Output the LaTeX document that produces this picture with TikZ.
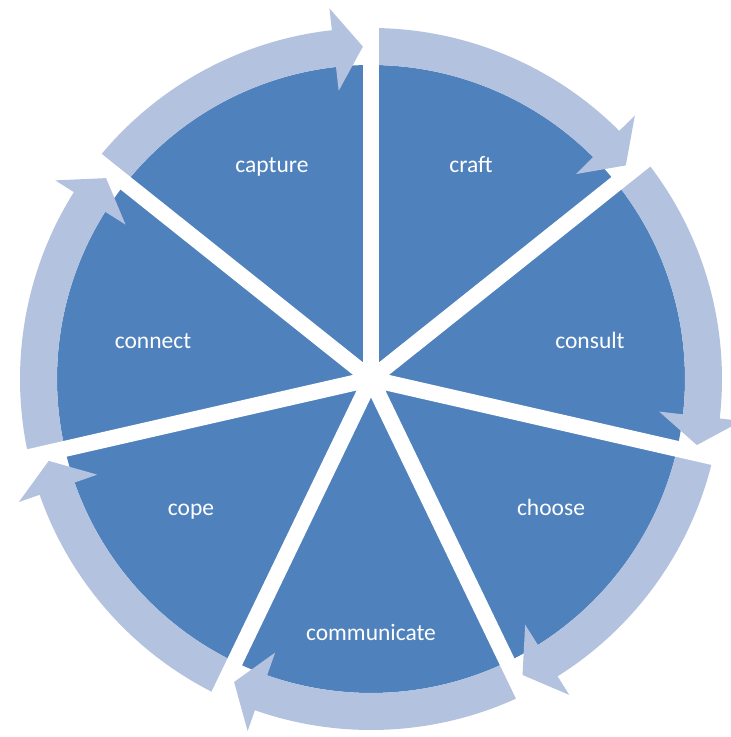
\documentclass[tikz,border=0pt]{standalone}
\usepackage{fontspec}
\setmainfont{Carlito}
\usepackage{xcolor}
\usepackage{tikz}

\definecolor{segblue}{HTML}{4F81BD}
\definecolor{ringblue}{HTML}{B3C2DE}

\begin{document}
\begin{tikzpicture}[x=1pt,y=1pt]
            \tikzset{seg/.style={fill=segblue},
                     ring/.style={fill=ringblue},
                     spoke/.style={draw=white,line width=16pt},
                     lab/.style={text=white,anchor=base,font=\fontsize{23.5}{28}\selectfont}}
            \useasboundingbox (-371,-358) rectangle (360,379);

            % pie slices
            \foreach \k in {0,...,6} {
                \pgfmathsetmacro{\angA}{90-\k*360/7}
                \pgfmathsetmacro{\angB}{\angA-360/7}
                \fill[seg] (0,0) -- (\angA:314) arc[start angle=\angA, end angle=\angB, radius=314pt] -- cycle;
            }

            % curved arrows, clockwise
            \foreach \k in {0,...,6} {
                \pgfmathsetmacro{\angA}{90-\k*360/7}
                \pgfmathsetmacro{\angC}{\angA-360/7+1.4}
                \pgfmathsetmacro{\angB}{\angC+5}
                \fill[ring] (\angA:351) arc[start angle=\angA, end angle=\angB, radius=351pt]
                    -- (\angB:373) -- (\angC:332.5) -- (\angB:290) -- (\angB:314)
                    arc[start angle=\angB, end angle=\angA, radius=314pt] -- cycle;
            }

            % white spokes between the slices
            \coordinate (c) at (0,0);
            \foreach \k in {0,...,6}
                \draw[spoke] (c) -- (90-\k*360/7:385);

            \node[lab] (capture) at (-99,206) {capture};
            \node[lab] (craft) at (100,206) {craft};
            \node[lab] (consult) at (219,31) {consult};
            \node[lab] (choose) at (180,-136) {choose};
            \node[lab] (communicate) at (0,-261) {communicate};
            \node[lab] (cope) at (-180,-136) {cope};
            \node[lab] (connect) at (-218,31) {connect};
        \end{tikzpicture}
\end{document}
